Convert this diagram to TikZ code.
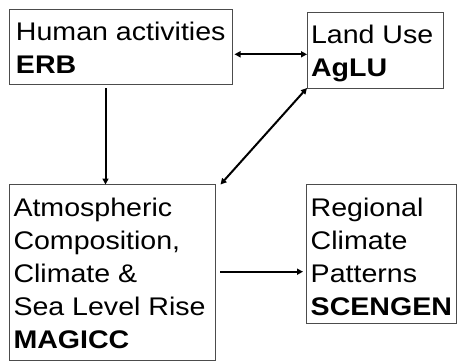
\documentclass[tikz,border=0pt]{standalone}
\usepackage{fontspec}
\setmainfont{Liberation Sans}[FakeStretch=1.12]
\usetikzlibrary{arrows.meta}
\newcommand\boxlines[1]{\vtop{\baselineskip=33pt\lineskiplimit=-100pt\halign{##\hfil\cr#1\crcr}}}
\begin{document}
\begin{tikzpicture}[x=1pt,y=-1pt,
  box/.style={draw=black!70, line width=1pt, inner sep=0pt, outer sep=0pt, anchor=north west},
  txt/.style={anchor=base west, inner sep=0pt, outer sep=0pt, font=\fontsize{25.5}{33}\selectfont},
  arr/.style={line width=2pt, -{Triangle[length=6pt,width=6pt]}},
  darr/.style={line width=2pt, {Triangle[length=6pt,width=6pt]}-{Triangle[length=6pt,width=6pt]}}]
\useasboundingbox (0,0) rectangle (458,362);
% boxes
\node[box, minimum width=223pt, minimum height=75pt] (erb) at (9,9) {};
\node[box, minimum width=136pt, minimum height=75.5pt] (aglu) at (307,12.5) {};
\node[box, minimum width=206pt, minimum height=176pt] (mag) at (9,184.5) {};
\node[box, minimum width=150.5pt, minimum height=139pt] (scen) at (306,184) {};
% texts
\node[txt] (erbtxt) at (16,40) {\boxlines{Human activities\cr\textbf{ERB}}};
\node[txt] (aglutxt) at (311,43) {\boxlines{Land Use\cr\textbf{AgLU}}};
\node[txt] (magtxt) at (13.5,216) {\boxlines{Atmospheric\cr Composition,\cr Climate \&\cr Sea Level Rise\cr\textbf{MAGICC}}};
\node[txt] (scentxt) at (310.7,216) {\boxlines{Regional\cr Climate\cr Patterns\cr\textbf{SCENGEN}}};
% helper coordinates
\coordinate (y1) at (0,54.3);
\coordinate (x1) at (105.5,0);
\coordinate (y2) at (0,271.7);
% connectors
\draw[darr] ([xshift=2.5pt]erb.east |- y1) -- (aglu.west |- y1);
\draw[arr] ([yshift=-4pt]erb.south -| x1) -- (mag.north -| x1);
\draw[darr] (aglu.south west) -- ([xshift=5.5pt]mag.north east);
\draw[arr] ([xshift=5pt]mag.east |- y2) -- ([xshift=-3pt]scen.west |- y2);
\end{tikzpicture}
\end{document}
